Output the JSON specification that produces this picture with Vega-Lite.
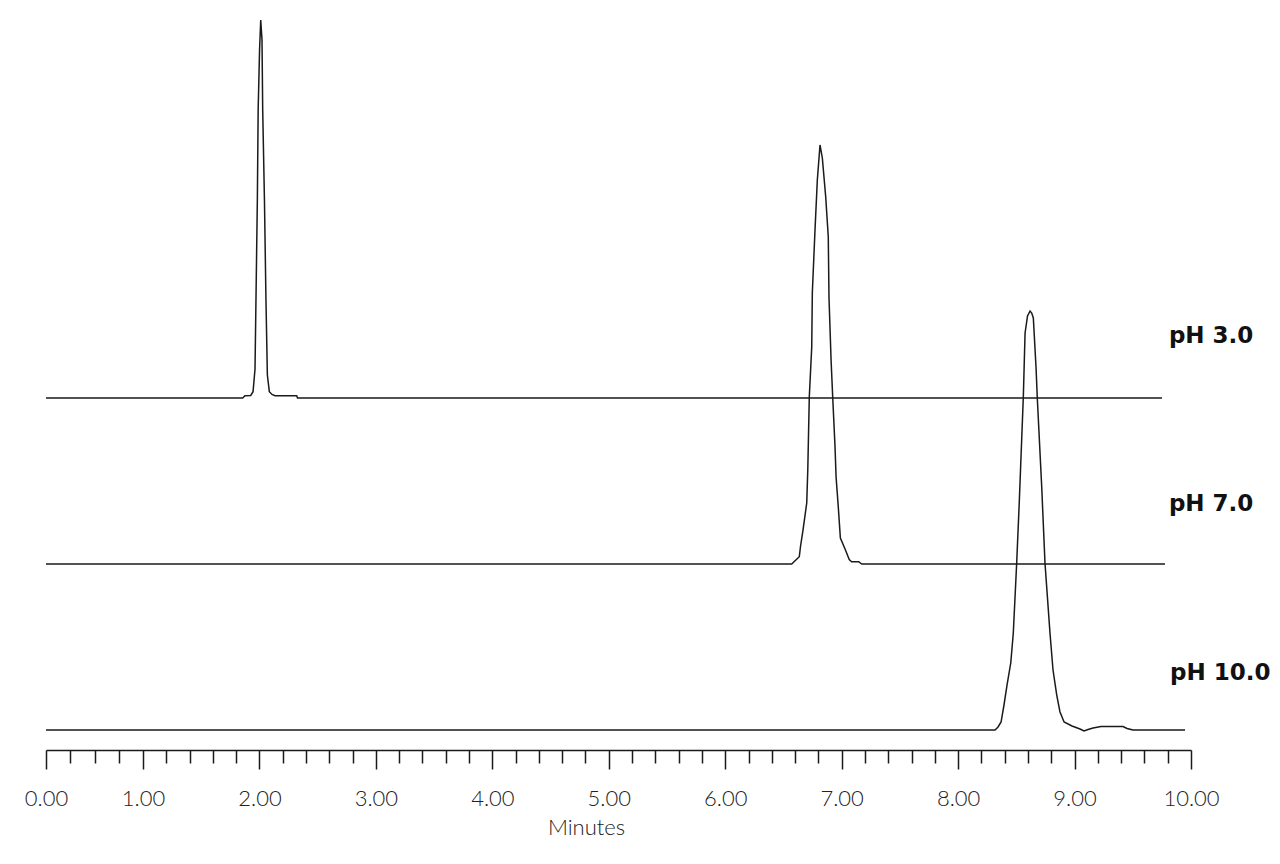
{
  "$schema": "https://vega.github.io/schema/vega-lite/v6.json",
  "width": 1145,
  "height": 740,
  "autosize": {"type": "none"},
  "padding": {"left": 46, "top": 10, "right": 89, "bottom": 114},
  "background": "white",
  "config": {"view": {"stroke": null}},
  "datasets": {
    "traces": [
      {"series": "pH 3.0", "time": 0, "signal": 0},
      {"series": "pH 3.0", "time": 1.856, "signal": 0},
      {"series": "pH 3.0", "time": 1.876, "signal": 0.55},
      {"series": "pH 3.0", "time": 1.925, "signal": 0.6},
      {"series": "pH 3.0", "time": 1.945, "signal": 1.5},
      {"series": "pH 3.0", "time": 1.962, "signal": 6.92},
      {"series": "pH 3.0", "time": 1.982, "signal": 47.26},
      {"series": "pH 3.0", "time": 1.989, "signal": 68.74},
      {"series": "pH 3.0", "time": 2.001, "signal": 83.05},
      {"series": "pH 3.0", "time": 2.011, "signal": 90.21},
      {"series": "pH 3.0", "time": 2.022, "signal": 85.44},
      {"series": "pH 3.0", "time": 2.028, "signal": 68.74},
      {"series": "pH 3.0", "time": 2.043, "signal": 47.26},
      {"series": "pH 3.0", "time": 2.056, "signal": 23.39},
      {"series": "pH 3.0", "time": 2.068, "signal": 5.49},
      {"series": "pH 3.0", "time": 2.085, "signal": 1.5},
      {"series": "pH 3.0", "time": 2.108, "signal": 0.84},
      {"series": "pH 3.0", "time": 2.134, "signal": 0.55},
      {"series": "pH 3.0", "time": 2.32, "signal": 0.55},
      {"series": "pH 3.0", "time": 2.327, "signal": 0},
      {"series": "pH 3.0", "time": 9.751, "signal": 0},

      {"series": "pH 7.0", "time": 0, "signal": 0},
      {"series": "pH 7.0", "time": 6.571, "signal": 0},
      {"series": "pH 7.0", "time": 6.636, "signal": 1.74},
      {"series": "pH 7.0", "time": 6.647, "signal": 4.3},
      {"series": "pH 7.0", "time": 6.668, "signal": 8.11},
      {"series": "pH 7.0", "time": 6.7, "signal": 14.56},
      {"series": "pH 7.0", "time": 6.709, "signal": 22.43},
      {"series": "pH 7.0", "time": 6.722, "signal": 39.86},
      {"series": "pH 7.0", "time": 6.743, "signal": 51.79},
      {"series": "pH 7.0", "time": 6.748, "signal": 64.68},
      {"series": "pH 7.0", "time": 6.771, "signal": 79.71},
      {"series": "pH 7.0", "time": 6.791, "signal": 91.65},
      {"series": "pH 7.0", "time": 6.814, "signal": 100},
      {"series": "pH 7.0", "time": 6.834, "signal": 96.9},
      {"series": "pH 7.0", "time": 6.863, "signal": 87.59},
      {"series": "pH 7.0", "time": 6.885, "signal": 78.04},
      {"series": "pH 7.0", "time": 6.891, "signal": 63.72},
      {"series": "pH 7.0", "time": 6.909, "signal": 48.69},
      {"series": "pH 7.0", "time": 6.923, "signal": 39.86},
      {"series": "pH 7.0", "time": 6.943, "signal": 27.92},
      {"series": "pH 7.0", "time": 6.952, "signal": 20.76},
      {"series": "pH 7.0", "time": 6.971, "signal": 13.6},
      {"series": "pH 7.0", "time": 6.989, "signal": 6.21},
      {"series": "pH 7.0", "time": 7.029, "signal": 3.58},
      {"series": "pH 7.0", "time": 7.065, "signal": 1.07},
      {"series": "pH 7.0", "time": 7.086, "signal": 0.55},
      {"series": "pH 7.0", "time": 7.147, "signal": 0.55},
      {"series": "pH 7.0", "time": 7.172, "signal": 0},
      {"series": "pH 7.0", "time": 9.777, "signal": 0},

      {"series": "pH 10.0", "time": 0, "signal": 0},
      {"series": "pH 10.0", "time": 8.317, "signal": 0},
      {"series": "pH 10.0", "time": 8.343, "signal": 0.72},
      {"series": "pH 10.0", "time": 8.369, "signal": 1.91},
      {"series": "pH 10.0", "time": 8.394, "signal": 5.97},
      {"series": "pH 10.0", "time": 8.42, "signal": 10.74},
      {"series": "pH 10.0", "time": 8.452, "signal": 15.99},
      {"series": "pH 10.0", "time": 8.474, "signal": 23.15},
      {"series": "pH 10.0", "time": 8.503, "signal": 39.86},
      {"series": "pH 10.0", "time": 8.526, "signal": 54.89},
      {"series": "pH 10.0", "time": 8.56, "signal": 79.47},
      {"series": "pH 10.0", "time": 8.575, "signal": 94.75},
      {"series": "pH 10.0", "time": 8.596, "signal": 98.81},
      {"series": "pH 10.0", "time": 8.618, "signal": 100},
      {"series": "pH 10.0", "time": 8.632, "signal": 99.52},
      {"series": "pH 10.0", "time": 8.646, "signal": 98.33},
      {"series": "pH 10.0", "time": 8.669, "signal": 86.63},
      {"series": "pH 10.0", "time": 8.68, "signal": 79.24},
      {"series": "pH 10.0", "time": 8.718, "signal": 57.99},
      {"series": "pH 10.0", "time": 8.746, "signal": 39.86},
      {"series": "pH 10.0", "time": 8.789, "signal": 23.15},
      {"series": "pH 10.0", "time": 8.815, "signal": 14.32},
      {"series": "pH 10.0", "time": 8.847, "signal": 8.35},
      {"series": "pH 10.0", "time": 8.875, "signal": 4.3},
      {"series": "pH 10.0", "time": 8.91, "signal": 1.91},
      {"series": "pH 10.0", "time": 8.978, "signal": 0.95},
      {"series": "pH 10.0", "time": 9.047, "signal": 0.24},
      {"series": "pH 10.0", "time": 9.081, "signal": -0.24},
      {"series": "pH 10.0", "time": 9.116, "signal": 0.12},
      {"series": "pH 10.0", "time": 9.159, "signal": 0.48},
      {"series": "pH 10.0", "time": 9.227, "signal": 0.84},
      {"series": "pH 10.0", "time": 9.416, "signal": 0.84},
      {"series": "pH 10.0", "time": 9.451, "signal": 0.36},
      {"series": "pH 10.0", "time": 9.502, "signal": 0},
      {"series": "pH 10.0", "time": 9.949, "signal": 0}
    ]
  },
  "layer": [
    {
      "data": {"name": "traces"},
      "transform": [{"filter": "datum.series === 'pH 3.0'"}],
      "mark": {"type": "line", "color": "#1a1a1a", "strokeWidth": 1.5},
      "encoding": {
        "x": {
          "field": "time",
          "type": "quantitative",
          "scale": {"type": "linear", "domain": [0, 1, 10], "range": [0, 97, 1145], "nice": false, "zero": false},
          "axis": {
            "orient": "bottom",
            "values": [0, 1, 2, 3, 4, 5, 6, 7, 8, 9, 10],
            "format": ".2f",
            "grid": false,
            "domainColor": "#1a1a1a",
            "domainWidth": 1.6,
            "tickColor": "#1a1a1a",
            "tickWidth": 1.5,
            "tickSize": 19,
            "labelFont": "Lato",
            "labelFontWeight": 300,
            "labelFontSize": 22,
            "labelColor": "#222222",
            "labelBaseline": "alphabetic",
            "labelPadding": 36,
            "labelOverlap": false,
            "labelFlush": false,
            "labelBound": false,
            "title": "Minutes",
            "titleFont": "Lato",
            "titleFontWeight": 300,
            "titleFontSize": 22,
            "titleColor": "#222222",
            "titleX": 540,
            "titleY": 84,
            "titleAlign": "center",
            "titleBaseline": "alphabetic"
          }
        },
        "y": {"field": "signal", "type": "quantitative", "scale": {"domain": [-84.01, 92.6], "nice": false, "zero": false}, "axis": null}
      }
    },
    {
      "data": {"name": "traces"},
      "transform": [{"filter": "datum.series === 'pH 7.0'"}],
      "mark": {"type": "line", "color": "#1a1a1a", "strokeWidth": 1.5},
      "encoding": {
        "x": {
          "field": "time",
          "type": "quantitative",
          "axis": {
            "orient": "bottom",
            "values": [0.25, 0.5, 0.75, 1.2, 1.4, 1.6, 1.8, 2.2, 2.4, 2.6, 2.8, 3.2, 3.4, 3.6, 3.8, 4.2, 4.4, 4.6, 4.8, 5.2, 5.4, 5.6, 5.8, 6.2, 6.4, 6.6, 6.8, 7.2, 7.4, 7.6, 7.8, 8.2, 8.4, 8.6, 8.8, 9.2, 9.4, 9.6, 9.8],
            "grid": false,
            "domain": false,
            "labels": false,
            "title": null,
            "tickColor": "#1a1a1a",
            "tickWidth": 1.5,
            "tickSize": 13
          }
        },
        "y": {"field": "signal", "type": "quantitative", "scale": {"domain": [-44.39, 132.22], "nice": false, "zero": false}, "axis": null}
      }
    },
    {
      "data": {"name": "traces"},
      "transform": [{"filter": "datum.series === 'pH 10.0'"}],
      "mark": {"type": "line", "color": "#1a1a1a", "strokeWidth": 1.5},
      "encoding": {
        "x": {"field": "time", "type": "quantitative", "axis": null},
        "y": {"field": "signal", "type": "quantitative", "scale": {"domain": [-4.77, 171.84], "nice": false, "zero": false}, "axis": null}
      }
    },
    {
      "data": {"values": [{"label": "pH 3.0"}]},
      "mark": {"type": "text", "align": "left", "baseline": "alphabetic", "font": "DejaVu Sans", "fontWeight": "bold", "fontSize": 23, "color": "#111111"},
      "encoding": {
        "x": {"datum": 9.81, "type": "quantitative", "axis": null},
        "y": {"datum": 13.1, "type": "quantitative", "scale": {"domain": [-84.01, 92.6], "nice": false, "zero": false}, "axis": null},
        "text": {"field": "label", "type": "nominal"}
      }
    },
    {
      "data": {"values": [{"label": "pH 7.0"}]},
      "mark": {"type": "text", "align": "left", "baseline": "alphabetic", "font": "DejaVu Sans", "fontWeight": "bold", "fontSize": 23, "color": "#111111"},
      "encoding": {
        "x": {"datum": 9.81, "type": "quantitative", "axis": null},
        "y": {"datum": 12.6, "type": "quantitative", "scale": {"domain": [-44.39, 132.22], "nice": false, "zero": false}, "axis": null},
        "text": {"field": "label", "type": "nominal"}
      }
    },
    {
      "data": {"values": [{"label": "pH 10.0"}]},
      "mark": {"type": "text", "align": "left", "baseline": "alphabetic", "font": "DejaVu Sans", "fontWeight": "bold", "fontSize": 23, "color": "#111111"},
      "encoding": {
        "x": {"datum": 9.82, "type": "quantitative", "axis": null},
        "y": {"datum": 11.9, "type": "quantitative", "scale": {"domain": [-4.77, 171.84], "nice": false, "zero": false}, "axis": null},
        "text": {"field": "label", "type": "nominal"}
      }
    }
  ],
  "resolve": {"scale": {"y": "independent"}, "axis": {"x": "independent", "y": "independent"}}
}
